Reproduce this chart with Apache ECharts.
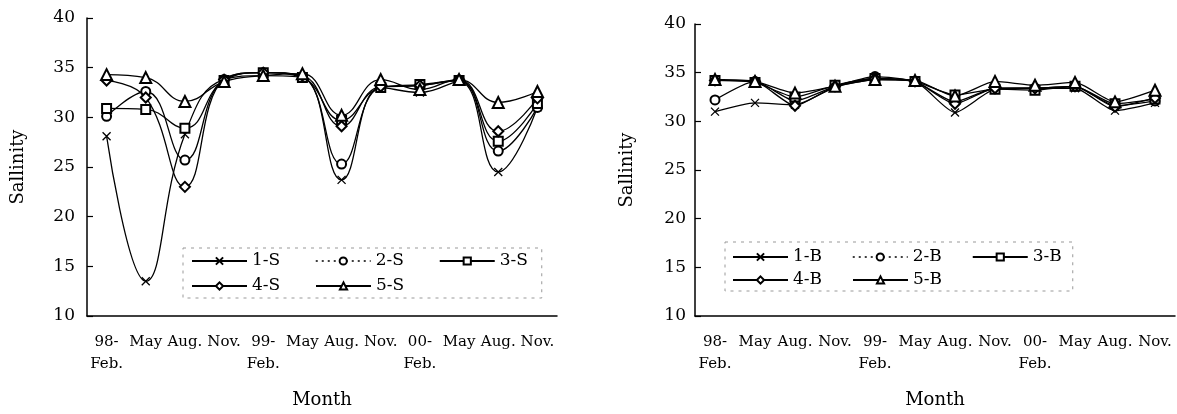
<!DOCTYPE html>
<html>
<head>
<meta charset="utf-8">
<script src="https://cdn.jsdelivr.net/npm/echarts@6/dist/echarts.min.js"></script>
<style>
  html, body { margin: 0; padding: 0; background: #fff; }
  #chart { width: 1177px; height: 414px; }
</style>
</head>
<body>
<div id="chart"></div>
<script>
// ---- data ----
const months = ['98-\nFeb.', 'May', 'Aug.', 'Nov.', '99-\nFeb.', 'May', 'Aug.', 'Nov.', '00-\nFeb.', 'May', 'Aug.', 'Nov.'];
const yTicks = [10, 15, 20, 25, 30, 35, 40];

const surfaceNames = ['1-S', '2-S', '3-S', '4-S', '5-S'];
const s1 = [28.1, 13.5, 28.3, 33.8, 34.2, 34.0, 23.7, 33.0, 32.5, 33.6, 24.5, 31.0];
const s2 = [30.1, 32.6, 25.7, 33.8, 34.5, 34.1, 25.3, 33.0, 33.2, 33.7, 26.6, 31.0];
const s3 = [30.9, 30.8, 28.9, 33.7, 34.5, 34.0, 29.7, 33.0, 33.3, 33.7, 27.6, 31.4];
const s4 = [33.7, 32.0, 23.0, 33.8, 34.5, 34.2, 29.1, 33.1, 33.2, 33.8, 28.6, 31.9];
const s5 = [34.3, 34.0, 31.6, 33.6, 34.2, 34.4, 30.2, 33.8, 32.8, 33.8, 31.5, 32.6];

const bottomNames = ['1-B', '2-B', '3-B', '4-B', '5-B'];
const b1 = [31.0, 31.9, 31.7, 33.5, 34.3, 34.1, 30.9, 33.3, 33.4, 33.4, 31.1, 31.9];
const b2 = [32.2, 34.1, 32.1, 33.6, 34.6, 34.1, 32.0, 33.4, 33.4, 33.6, 31.6, 32.1];
const b3 = [34.2, 34.0, 32.5, 33.7, 34.4, 34.1, 32.7, 33.3, 33.2, 33.6, 31.8, 32.3];
const b4 = [34.2, 34.1, 31.6, 33.6, 34.4, 34.1, 31.8, 33.4, 33.4, 33.6, 31.5, 32.4];
const b5 = [34.3, 34.1, 32.9, 33.6, 34.3, 34.2, 32.6, 34.1, 33.7, 34.0, 32.0, 33.2];

// ---- styling ----
const FONT = 'DejaVu Serif';
const INK = '#000';
const crossPath = 'path://M0,0L10,10M10,0L0,10';
const symbols = [crossPath, 'emptyCircle', 'emptyRect', 'emptyDiamond', 'emptyTriangle'];
const symbolSizes = [8, 9, 9, 10, 11];

function makeSeries(names, datas, gridIdx, smooth) {
  return names.map((n, i) => ({
    name: n,
    type: 'line',
    xAxisIndex: gridIdx,
    yAxisIndex: gridIdx,
    data: datas[i],
    smooth: smooth,
    symbol: symbols[i],
    symbolSize: symbolSizes[i],
    showAllSymbol: true,
    lineStyle: { color: INK, width: 1.3 },
    itemStyle: { color: INK, borderColor: INK, borderWidth: 1.3 },
    emphasis: { disabled: true },
    z: 2 + i
  }));
}

function legendData(names, textW) {
  return names.map((n, i) => {
    const item = { name: n };
    if (i === 1) item.lineStyle = { type: [2, 4], width: 1.5 };
    if (i === 2) item.textStyle = { width: textW - 18 };
    return item;
  });
}

function xAxisCfg(gridIdx) {
  return {
    type: 'category', gridIndex: gridIdx, data: months, boundaryGap: true,
    name: 'Month', nameLocation: 'middle', nameGap: 75,
    nameTextStyle: { fontFamily: FONT, fontSize: 18, color: INK },
    axisLine: { lineStyle: { color: INK, width: 1.5 } },
    axisTick: { inside: true, length: 5, lineStyle: { color: INK, width: 1.2 } },
    axisLabel: { fontFamily: FONT, fontSize: 15, color: INK, margin: 15, lineHeight: 22, interval: 0 },
    splitLine: { show: false }
  };
}

function yAxisCfg(gridIdx, margin, gap) {
  return {
    type: 'value', gridIndex: gridIdx, min: yTicks[0], max: yTicks[yTicks.length - 1], interval: 5,
    name: 'Sallinity', nameLocation: 'middle', nameRotate: 90, nameGap: gap,
    nameTextStyle: { fontFamily: FONT, fontSize: 18, color: INK },
    axisLine: { show: true, lineStyle: { color: INK, width: 1.5 } },
    axisTick: { show: true, inside: true, length: 6, lineStyle: { color: INK, width: 1.2 } },
    axisLabel: { fontFamily: FONT, fontSize: 17, color: INK, margin: margin },
    splitLine: { show: false }
  };
}

function legendCfg(names, left, top, textW, gap, padding) {
  return {
    data: legendData(names, textW),
    left: left, top: top, width: 3 * (55 + 5 + textW) + 45,
    orient: 'horizontal',
    itemWidth: 55, itemHeight: 9, itemGap: gap,
    padding: padding,
    borderColor: '#999', borderWidth: 1, borderType: [3, 5],
    textStyle: { fontFamily: FONT, fontSize: 17, color: INK, width: textW, lineHeight: 22 },
    selectedMode: false,
    inactiveColor: INK
  };
}

const option = {
  animation: false,
  backgroundColor: '#fff',
  grid: [
    { left: 87, top: 18, width: 470, height: 304, containLabel: false },
    { left: 695, top: 24, width: 480, height: 298, containLabel: false }
  ],
  xAxis: [xAxisCfg(0), xAxisCfg(1)],
  yAxis: [yAxisCfg(0, 12, 60), yAxisCfg(1, 9, 59)],
  legend: [
    legendCfg(surfaceNames, 183, 248, 60, 3, [2, 0, 1, 8]),
    legendCfg(bottomNames, 725, 242, 58, 1, [4, 0, 0, 7])
  ],
  series: [
    ...makeSeries(surfaceNames, [s1, s2, s3, s4, s5], 0, 0.45),
    ...makeSeries(bottomNames, [b1, b2, b3, b4, b5], 1, 0.2)
  ]
};

const chart = echarts.init(document.getElementById('chart'), null, { renderer: 'canvas' });
chart.setOption(option);
</script>
</body>
</html>
